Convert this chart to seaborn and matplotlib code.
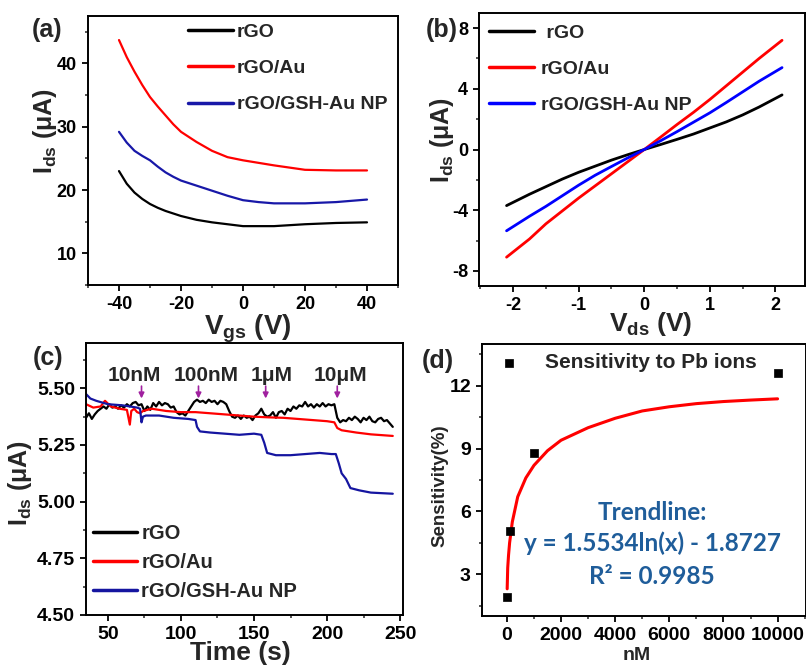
import matplotlib
matplotlib.use('Agg')
import matplotlib.pyplot as plt
from matplotlib.ticker import MultipleLocator
import seaborn as sns

# ---- data ----
# (a) Ids vs Vgs
vgs = [-40, -37.5, -35, -32.5, -30, -27.5, -25, -22.5, -20, -15, -10, -5, 0, 5, 10, 20, 30, 40]
a_rgo = [23.0, 21.0, 19.6, 18.6, 17.8, 17.2, 16.7, 16.3, 15.9, 15.3, 14.9, 14.6, 14.3, 14.3, 14.3, 14.6, 14.8, 14.9]
a_au = [43.7, 41.0, 38.7, 36.6, 34.7, 33.2, 31.8, 30.4, 29.2, 27.6, 26.2, 25.2, 24.7, 24.3, 23.9, 23.2, 23.1, 23.1]
a_gsh = [29.2, 27.5, 26.2, 25.4, 24.7, 23.7, 22.8, 22.1, 21.5, 20.7, 19.9, 19.1, 18.4, 18.1, 17.9, 17.9, 18.1, 18.5]

# (b) Ids vs Vds
vds = [-2.1, -1.75, -1.5, -1.25, -1, -0.75, -0.5, -0.25, 0, 0.25, 0.5, 0.75, 1, 1.25, 1.5, 1.75, 2.1]
b_rgo = [-3.7, -2.95, -2.45, -1.95, -1.5, -1.1, -0.7, -0.34, 0, 0.33, 0.67, 1.02, 1.42, 1.82, 2.28, 2.8, 3.6]
b_au = [-7.1, -5.9, -4.9, -4.05, -3.2, -2.4, -1.6, -0.8, 0, 0.82, 1.65, 2.45, 3.3, 4.2, 5.1, 6.0, 7.2]
b_gsh = [-5.36, -4.4, -3.75, -3.05, -2.35, -1.7, -1.12, -0.55, 0, 0.58, 1.18, 1.8, 2.42, 3.1, 3.8, 4.5, 5.4]

# (c) real-time response
t_rgo = [35, 37, 39, 41, 43, 45, 47, 49, 51, 53, 55, 57, 59, 61, 63, 65, 67, 69, 71, 73, 75, 77,
         79, 81, 83, 85, 87, 89, 91, 93, 95, 97, 99, 101, 103, 105, 107, 109, 111, 113, 115, 117,
         119, 121, 123, 125, 127, 129, 131, 133, 135, 137, 139, 141, 143, 145, 147, 149, 151, 153,
         155, 157, 159, 161, 163, 165, 167, 169, 171, 173, 175, 177, 179, 181, 183, 185, 187, 189,
         191, 193, 195, 197, 199, 201, 203, 205, 206, 207, 209, 211, 213, 215, 217, 219, 221, 223,
         225, 227, 229, 231, 233, 235, 237, 239, 241, 243, 245]
c_rgo = [5.37, 5.39, 5.365, 5.385, 5.40, 5.41, 5.42, 5.41, 5.43, 5.415, 5.42, 5.41, 5.425, 5.415,
         5.43, 5.42, 5.435, 5.44, 5.425, 5.43, 5.40, 5.42, 5.405, 5.435, 5.42, 5.44, 5.425, 5.435,
         5.43, 5.415, 5.42, 5.395, 5.385, 5.39, 5.38, 5.40, 5.42, 5.44, 5.45, 5.44, 5.445, 5.435,
         5.45, 5.44, 5.445, 5.43, 5.445, 5.44, 5.43, 5.40, 5.375, 5.37, 5.38, 5.365, 5.38, 5.37,
         5.375, 5.36, 5.38, 5.39, 5.41, 5.385, 5.375, 5.38, 5.395, 5.37, 5.395, 5.40, 5.385, 5.41,
         5.40, 5.42, 5.41, 5.425, 5.42, 5.44, 5.42, 5.43, 5.415, 5.43, 5.42, 5.435, 5.42, 5.43,
         5.425, 5.43, 5.40, 5.37, 5.35, 5.36, 5.355, 5.37, 5.36, 5.375, 5.365, 5.35, 5.37, 5.36,
         5.375, 5.355, 5.35, 5.365, 5.37, 5.355, 5.36, 5.345, 5.33]
t_au = [35, 40, 45, 48, 52, 58, 63, 65, 66, 68, 70, 72, 74, 80, 90, 100, 110, 120, 130, 140,
        150, 160, 170, 180, 190, 200, 205, 207, 210, 220, 230, 245]
c_au = [5.43, 5.415, 5.42, 5.445, 5.42, 5.41, 5.405, 5.34, 5.40, 5.41, 5.395, 5.39, 5.40, 5.41,
        5.40, 5.395, 5.395, 5.39, 5.385, 5.38, 5.375, 5.372, 5.37, 5.365, 5.36, 5.355, 5.35,
        5.325, 5.315, 5.305, 5.297, 5.29]
t_gsh = [35, 38, 42, 50, 60, 70, 72, 73, 74, 76, 85, 95, 105, 110, 111, 113, 120, 130, 140, 150,
         155, 157, 159, 165, 175, 185, 195, 203, 206, 208, 210, 213, 216, 222, 230, 245]
c_gsh = [5.475, 5.455, 5.445, 5.43, 5.425, 5.415, 5.41, 5.35, 5.375, 5.38, 5.38, 5.37, 5.365,
         5.36, 5.33, 5.31, 5.305, 5.30, 5.295, 5.30, 5.295, 5.26, 5.215, 5.205, 5.205, 5.21,
         5.215, 5.21, 5.21, 5.17, 5.125, 5.10, 5.06, 5.05, 5.04, 5.035]
doses = ['10nM', '100nM', '1μM', '10μM']
dose_text_x = [68, 117, 162, 209]
dose_arrow_x = [73, 112, 158, 207]

# (d) sensitivity
conc = [10, 100, 1000, 10000]
sens = [1.9, 5.05, 8.8, 12.6]
fit_x = [10, 30, 60, 100, 200, 400, 700, 1000, 1500, 2000, 3000, 4000, 5000, 6000, 7000, 8000, 9000, 10000]
fit_y = [2.3, 3.3, 3.9, 4.5, 5.5, 6.7, 7.6, 8.2, 8.9, 9.4, 10.0, 10.45, 10.8, 11.0, 11.15, 11.25, 11.32, 11.38]

labels = ['rGO', 'rGO/Au', 'rGO/GSH-Au NP']

# ---- style ----
sns.set_style('ticks')
plt.rcParams['font.family'] = ['Liberation Sans', 'DejaVu Sans']
plt.rcParams['font.weight'] = 'bold'
plt.rcParams['axes.unicode_minus'] = False
plt.rcParams['mathtext.fontset'] = 'custom'
plt.rcParams['mathtext.rm'] = 'Liberation Sans:bold'
plt.rcParams['mathtext.bf'] = 'Liberation Sans:bold'
plt.rcParams['mathtext.default'] = 'bf'

W, H = 806, 670
fig = plt.figure(figsize=(W / 100, H / 100), dpi=100)


def box(l, t, r, b):
    return fig.add_axes([l / W, 1 - b / H, (r - l) / W, (b - t) / H])


def style(ax, size):
    for s in ax.spines.values():
        s.set_linewidth(1.4)
        s.set_color('black')
    ax.tick_params(which='major', direction='out', length=4.5, width=1.3, labelsize=size,
                   top=False, right=False, colors='black')
    ax.tick_params(which='minor', direction='out', length=2.5, width=1.1, top=False, right=False)
    for lab in ax.get_xticklabels() + ax.get_yticklabels():
        lab.set_fontweight('bold')


leg_font = {'weight': 'bold', 'size': 14}

# ---- (a) ----
ax = box(88, 16, 398, 285)
sns.lineplot(x=vgs, y=a_rgo, color='black', lw=1.6, ax=ax, label=labels[0])
sns.lineplot(x=vgs, y=a_au, color='#ff0000', lw=1.6, ax=ax, label=labels[1])
sns.lineplot(x=vgs, y=a_gsh, color='#1818a8', lw=1.6, ax=ax, label=labels[2])
ax.set_xlim(-50, 50)
ax.set_ylim(5, 47.5)
ax.xaxis.set_major_locator(MultipleLocator(20))
ax.xaxis.set_minor_locator(MultipleLocator(10))
ax.yaxis.set_major_locator(MultipleLocator(10))
ax.yaxis.set_minor_locator(MultipleLocator(5))
style(ax, 13)
ax.set_xlabel(r'V$_{gs}$ (V)', fontsize=20, fontweight='bold')
ax.xaxis.set_label_coords(0.516, -0.162)
ax.xaxis.label.set_va('center')
ax.set_ylabel(r'I$_{ds}$ (μA)', fontsize=18, fontweight='bold')
ax.yaxis.set_label_coords(-0.139, 0.573)
ax.yaxis.label.set_va('center')
ax.legend(loc='upper left', bbox_to_anchor=(0.323, 0.972), frameon=False, prop=leg_font,
          handlelength=2.3, handletextpad=0.2, labelspacing=0.95, borderpad=0, borderaxespad=0)
for ln in ax.get_legend().get_lines():
    ln.set_linewidth(2.5)

# ---- (b) ----
ax = box(479, 13, 805, 286)
sns.lineplot(x=vds, y=b_rgo, color='black', lw=2, ax=ax, label=' ' + labels[0])
sns.lineplot(x=vds, y=b_au, color='#ff0000', lw=2, ax=ax, label=labels[1])
sns.lineplot(x=vds, y=b_gsh, color='#0000ff', lw=2, ax=ax, label=labels[2])
ax.set_xlim(-2.52, 2.45)
ax.set_ylim(-9, 9)
ax.xaxis.set_major_locator(MultipleLocator(1))
ax.xaxis.set_minor_locator(MultipleLocator(0.5))
ax.yaxis.set_major_locator(MultipleLocator(4))
ax.yaxis.set_minor_locator(MultipleLocator(2))
style(ax, 13)
ax.set_xlabel(r'V$_{ds}$ (V)', fontsize=19, fontweight='bold')
ax.xaxis.set_label_coords(0.525, -0.14)
ax.xaxis.label.set_va('center')
ax.set_ylabel(r'I$_{ds}$ (μA)', fontsize=18, fontweight='bold')
ax.yaxis.set_label_coords(-0.113, 0.535)
ax.yaxis.label.set_va('center')
ax.legend(loc='upper left', bbox_to_anchor=(0.031, 0.958), frameon=False, prop=leg_font,
          handlelength=2.3, handletextpad=0.35, labelspacing=0.95, borderpad=0, borderaxespad=0)
for ln in ax.get_legend().get_lines():
    ln.set_linewidth(2.5)

# ---- (c) ----
ax = box(86, 343, 403, 615)
sns.lineplot(x=t_rgo, y=c_rgo, color='black', lw=1.6, ax=ax, label=labels[0])
sns.lineplot(x=t_au, y=c_au, color='#ff0000', lw=1.6, ax=ax, label=labels[1])
sns.lineplot(x=t_gsh, y=c_gsh, color='#1515a0', lw=1.6, ax=ax, label=labels[2])
for name, tx, axx in zip(doses, dose_text_x, dose_arrow_x):
    ax.text(tx, 5.557, name, ha='center', va='center', fontsize=15, fontweight='bold')
    ax.annotate('', xy=(axx, 5.443), xytext=(axx, 5.522),
                arrowprops=dict(arrowstyle='-|>', color='#a0209f', lw=1.2, mutation_scale=8))
ax.set_xlim(35, 252)
ax.set_ylim(4.5, 5.7)
ax.xaxis.set_major_locator(MultipleLocator(50))
ax.xaxis.set_minor_locator(MultipleLocator(25))
ax.yaxis.set_major_locator(MultipleLocator(0.25))
ax.yaxis.set_minor_locator(MultipleLocator(0.125))
ax.yaxis.set_major_formatter('{x:.2f}')
style(ax, 14)
ax.set_xlabel('Time (s)', fontsize=19, fontweight='bold')
ax.xaxis.set_label_coords(0.486, -0.14)
ax.xaxis.label.set_va('center')
ax.set_ylabel(r'I$_{ds}$ (μA)', fontsize=18, fontweight='bold')
ax.yaxis.set_label_coords(-0.208, 0.485)
ax.yaxis.label.set_va('center')
ax.legend(loc='upper left', bbox_to_anchor=(0.022, 0.335), frameon=False, prop={'weight': 'bold', 'size': 14.5},
          handlelength=2.2, handletextpad=0.2, labelspacing=0.5, borderpad=0, borderaxespad=0)
for ln in ax.get_legend().get_lines():
    ln.set_linewidth(2.5)

# ---- (d) ----
ax = box(482, 344, 806, 616)
sns.lineplot(x=fit_x, y=fit_y, color='#ff0000', lw=2.2, ax=ax, legend=False)
sns.scatterplot(x=conc, y=sens, color='black', marker='s', s=40, edgecolor='black', ax=ax,
                label='Sensitivity to Pb ions', zorder=3)
ax.set_xlim(-920, 11050)
ax.set_ylim(1, 14)
ax.xaxis.set_major_locator(MultipleLocator(2000))
ax.xaxis.set_minor_locator(MultipleLocator(1000))
ax.yaxis.set_major_locator(MultipleLocator(3))
ax.yaxis.set_minor_locator(MultipleLocator(1.5))
style(ax, 14)
ax.set_xlabel('nM', fontsize=14, fontweight='bold')
ax.xaxis.set_label_coords(0.478, -0.147)
ax.xaxis.label.set_va('center')
ax.set_ylabel('Sensitivity(%)', fontsize=13.5, fontweight='bold')
ax.yaxis.set_label_coords(-0.13, 0.478)
ax.yaxis.label.set_va('center')
ax.legend(loc='upper left', bbox_to_anchor=(0.052, 0.967), frameon=False, prop={'weight': 'bold', 'size': 15},
          handlelength=1.0, handletextpad=1.2, borderpad=0, borderaxespad=0)
trend_font = dict(ha='center', va='center', fontsize=17.5, fontweight='bold', color='#1f5d9a',
                  family=['Lato', 'DejaVu Sans'], transform=ax.transAxes)
ax.text(0.525, 0.382, 'Trendline:', **trend_font)
ax.text(0.525, 0.268, 'y = 1.5534ln(x) - 1.8727', **trend_font)
ax.text(0.525, 0.147, 'R² = 0.9985', **trend_font)

# ---- panel letters ----
for letter, x, y in [('(a)', 32, 30), ('(b)', 426, 30), ('(c)', 33, 358), ('(d)', 422, 361)]:
    fig.text(x / W, 1 - y / H, letter, ha='left', va='center', fontsize=18, fontweight='bold')

fig.savefig('out.png', dpi=100)
